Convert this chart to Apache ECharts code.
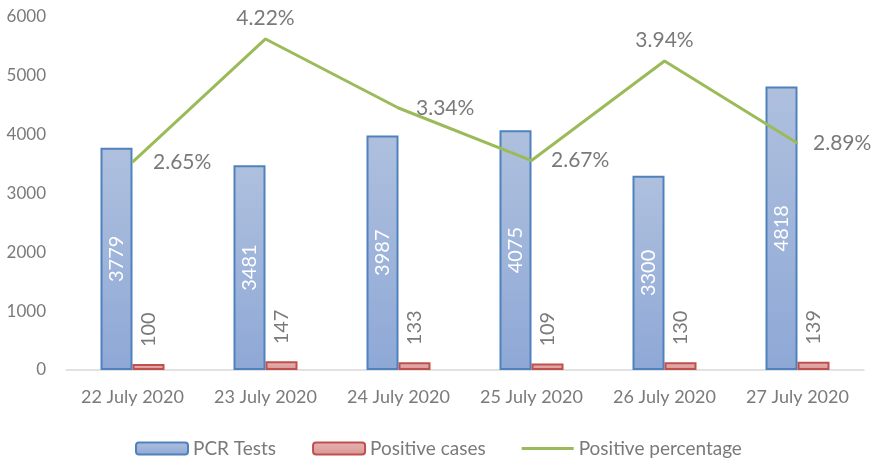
<!DOCTYPE html>
<html>
<head>
<meta charset="utf-8">
<script src="https://cdn.jsdelivr.net/npm/echarts@6/dist/echarts.min.js"></script>
<style>
  html, body { margin: 0; padding: 0; background: #fff; }
  #chart { width: 873px; height: 459px; }
</style>
</head>
<body>
<div id="chart"></div>
<script>
var dates = ['22 July 2020', '23 July 2020', '24 July 2020', '25 July 2020', '26 July 2020', '27 July 2020'];
var pcrTests = [3779, 3481, 3987, 4075, 3300, 4818];
var positiveCases = [100, 147, 133, 109, 130, 139];
var positivePct = [2.65, 4.22, 3.34, 2.67, 3.94, 2.89];
// 퍼센트 라벨 위치 / 간격
var pctLabelPos = ['right', 'top', 'right', 'right', 'top', 'right'];
var pctLabelDist = [20, 10, 17, 19, 10, 15];

var fontFam = 'Lato, "Open Sans", sans-serif';
var grey = '#7a7a7a';

var myChart = echarts.init(document.getElementById('chart'));

var option = {
  animation: false,
  textStyle: { fontFamily: fontFam },
  grid: { left: 66, right: 9, top: 17, bottom: 89 },
  legend: {
    top: 434,
    left: 130,
    itemWidth: 52,
    itemHeight: 12,
    itemGap: 36,
    textStyle: { fontSize: 19, color: grey, fontFamily: fontFam },
    data: [
      { name: 'PCR Tests' },
      { name: 'Positive cases' },
      { name: 'Positive percentage', icon: 'path://M0,0 M52,12 M0,4.5 L52,4.5 L52,7.5 L0,7.5 Z' }
    ]
  },
  xAxis: {
    type: 'category',
    data: dates,
    axisTick: { show: false },
    axisLine: { lineStyle: { color: '#d9d9d9', width: 1.5 } },
    axisLabel: { fontSize: 18, color: grey, margin: 18, interval: 0 }
  },
  yAxis: [
    {
      type: 'value',
      min: 0,
      max: 6000,
      interval: 1000,
      splitLine: { show: false },
      axisLine: { show: false },
      axisTick: { show: false },
      axisLabel: {
        fontSize: 17,
        color: grey,
        margin: 20,
        formatter: function (v) { return String(v); }
      }
    },
    {
      type: 'value',
      min: 0,
      max: 4.5,
      show: false
    }
  ],
  series: [
    {
      name: 'PCR Tests',
      type: 'bar',
      barWidth: 32,
      barGap: '0%',
      data: pcrTests,
      itemStyle: {
        color: new echarts.graphic.LinearGradient(0, 0, 0, 1, [
          { offset: 0, color: '#afc0de' },
          { offset: 1, color: '#8ea8d6' }
        ]),
        borderColor: '#4f81bd',
        borderWidth: 2
      },
      label: {
        show: true,
        position: 'inside',
        rotate: 90,
        color: '#ffffff',
        fontSize: 20
      }
    },
    {
      name: 'Positive cases',
      type: 'bar',
      barWidth: 32,
      barGap: '0%',
      data: positiveCases,
      itemStyle: {
        color: new echarts.graphic.LinearGradient(0, 0, 0, 1, [
          { offset: 0, color: '#e6b4b3' },
          { offset: 1, color: '#d99694' }
        ]),
        borderColor: '#c0504d',
        borderWidth: 2
      },
      label: {
        show: true,
        position: 'top',
        rotate: 90,
        align: 'left',
        verticalAlign: 'middle',
        distance: 17,
        color: grey,
        fontSize: 20
      }
    },
    {
      name: 'Positive percentage',
      type: 'line',
      yAxisIndex: 1,
      symbol: 'circle',
      symbolSize: 1,
      lineStyle: { color: '#9bbb59', width: 3 },
      itemStyle: { color: '#9bbb59' },
      data: positivePct.map(function (v, i) {
        return {
          value: v,
          label: { position: pctLabelPos[i], distance: pctLabelDist[i] }
        };
      }),
      label: {
        show: true,
        color: grey,
        fontSize: 21,
        formatter: function (p) { return p.value.toFixed(2) + '%'; }
      }
    }
  ]
};

myChart.setOption(option);
</script>
</body>
</html>
